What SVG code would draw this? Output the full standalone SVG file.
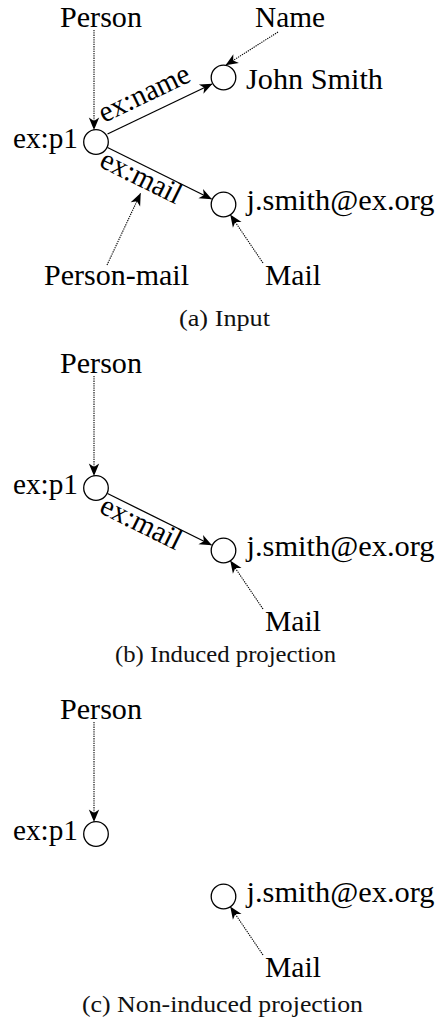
<svg xmlns="http://www.w3.org/2000/svg" width="440" height="1022" viewBox="0 0 440 1022">
  <style>
    .node { fill: #fff; stroke: #000; stroke-width: 1.3; }
    .edge { fill: none; stroke: #000; stroke-width: 1.3; marker-end: url(#arr); }
    .typ { fill: none; stroke: #000; stroke-width: 1.1; stroke-dasharray: 1.3 1; marker-end: url(#arr); }
    .t { font-family: 'Liberation Serif', 'Nimbus Roman', 'Times New Roman', Times, serif; font-size: 30px; }
    .cap { font-family: 'Liberation Serif', serif; font-size: 23px; fill: #111; text-anchor: middle; }
  </style>
  <defs>
    <marker id="arr" viewBox="-13 -6 15 12" refX="0" refY="0" markerWidth="15" markerHeight="12" markerUnits="userSpaceOnUse" orient="auto">
      <path d="M0.5,0 L-12,-5.2 L-8.5,0 L-12,5.2 Z" fill="#000" stroke="none"/>
    </marker>
  </defs>
  <rect width="440" height="1022" fill="#fff"/>

  <g id="connectors">
    <line class="typ" x1="94" y1="30" x2="94" y2="129.5"/>
    <line class="typ" x1="278" y1="32" x2="226" y2="65"/>
    <line class="edge" x1="107.5" y1="134" x2="212" y2="84"/>
    <line class="edge" x1="107.5" y1="147.5" x2="211.5" y2="199"/>
    <line class="typ" x1="107" y1="265" x2="140.5" y2="193.5"/>
    <line class="typ" x1="263" y1="263" x2="230.5" y2="215"/>
    <line class="typ" x1="94" y1="376" x2="94" y2="475.5"/>
    <line class="edge" x1="107.5" y1="493.5" x2="211.5" y2="545"/>
    <line class="typ" x1="263" y1="609" x2="230.5" y2="561"/>
    <line class="typ" x1="94" y1="722" x2="94" y2="821.5"/>
    <line class="typ" x1="263" y1="955" x2="230.5" y2="907"/>
  </g>

  <g id="edge-labels">
    <text class="t" transform="translate(104,123) rotate(-25.6)" textLength="98" lengthAdjust="spacingAndGlyphs">ex:name</text>
    <text class="t" transform="translate(98,166) rotate(26.3)" textLength="87" lengthAdjust="spacingAndGlyphs">ex:mail</text>
    <text class="t" transform="translate(98,512) rotate(26.3)" textLength="87" lengthAdjust="spacingAndGlyphs">ex:mail</text>
  </g>

  <g id="a-person"><text class="t" x="60" y="27" textLength="82" lengthAdjust="spacingAndGlyphs">Person</text></g>
  <g id="a-name"><text class="t" x="255" y="27" textLength="70" lengthAdjust="spacingAndGlyphs">Name</text></g>
  <g id="a-p1"><circle class="node" cx="96" cy="142" r="12.3"/><text class="t" x="13" y="148" textLength="65" lengthAdjust="spacingAndGlyphs">ex:p1</text></g>
  <g id="a-john"><circle class="node" cx="223.5" cy="77.5" r="12.3"/><text class="t" x="246" y="89" textLength="137" lengthAdjust="spacingAndGlyphs">John Smith</text></g>
  <g id="a-mailnode"><circle class="node" cx="223.5" cy="204.5" r="12.3"/><text class="t" x="246.5" y="210" textLength="188" lengthAdjust="spacingAndGlyphs">j.smith@ex.org</text></g>
  <g id="a-personmail"><text class="t" x="44" y="285" textLength="145" lengthAdjust="spacingAndGlyphs">Person-mail</text></g>
  <g id="a-mail"><text class="t" x="265" y="285" textLength="56" lengthAdjust="spacingAndGlyphs">Mail</text></g>
  <text class="cap" x="224.5" y="326" textLength="91" lengthAdjust="spacingAndGlyphs">(a) Input</text>

  <g id="b-person"><text class="t" x="60" y="373" textLength="82" lengthAdjust="spacingAndGlyphs">Person</text></g>
  <g id="b-p1"><circle class="node" cx="96" cy="488" r="12.3"/><text class="t" x="13" y="494" textLength="65" lengthAdjust="spacingAndGlyphs">ex:p1</text></g>
  <g id="b-mailnode"><circle class="node" cx="223.5" cy="550.5" r="12.3"/><text class="t" x="246.5" y="556" textLength="188" lengthAdjust="spacingAndGlyphs">j.smith@ex.org</text></g>
  <g id="b-mail"><text class="t" x="265" y="631" textLength="56" lengthAdjust="spacingAndGlyphs">Mail</text></g>
  <text class="cap" x="225.5" y="662" textLength="221" lengthAdjust="spacingAndGlyphs">(b) Induced projection</text>

  <g id="c-person"><text class="t" x="60" y="719" textLength="82" lengthAdjust="spacingAndGlyphs">Person</text></g>
  <g id="c-p1"><circle class="node" cx="96" cy="834" r="12.3"/><text class="t" x="13" y="840" textLength="65" lengthAdjust="spacingAndGlyphs">ex:p1</text></g>
  <g id="c-mailnode"><circle class="node" cx="223.5" cy="896.5" r="12.3"/><text class="t" x="246.5" y="902" textLength="188" lengthAdjust="spacingAndGlyphs">j.smith@ex.org</text></g>
  <g id="c-mail"><text class="t" x="265" y="977" textLength="56" lengthAdjust="spacingAndGlyphs">Mail</text></g>
  <text class="cap" x="222.5" y="1012" textLength="281" lengthAdjust="spacingAndGlyphs">(c) Non-induced projection</text>
</svg>
